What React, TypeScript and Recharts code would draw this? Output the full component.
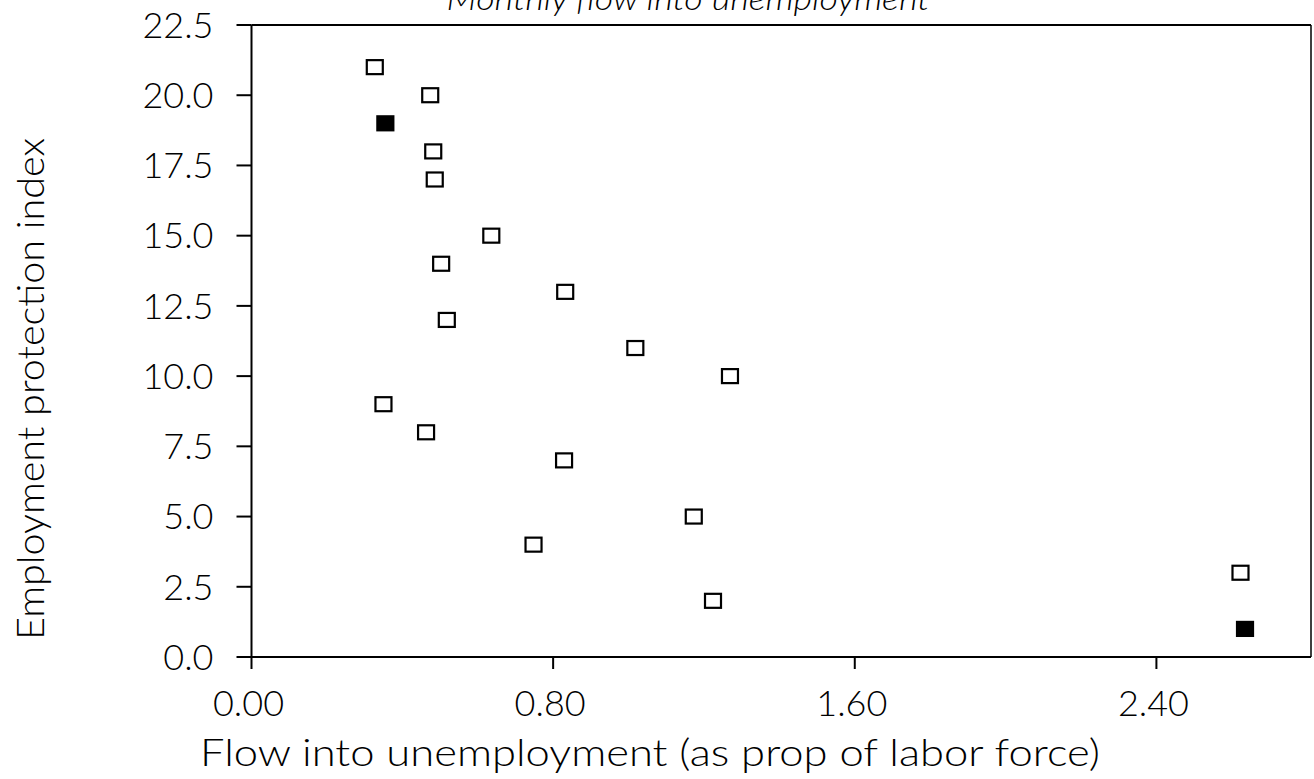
import { ScatterChart, Scatter, XAxis, YAxis, ReferenceLine } from 'recharts';

// flow into unemployment (x) vs employment protection rank (y)
const openFlow = [0.327, 0.474, 0.482, 0.486, 0.636, 0.503, 0.832, 0.518, 1.018, 1.269, 0.35, 0.463, 0.829, 1.173, 0.748, 2.623, 1.224];
const openIndex = [21, 20, 18, 17, 15, 14, 13, 12, 11, 10, 9, 8, 7, 5, 4, 3, 2];
const filledFlow = [0.355, 2.635];
const filledIndex = [19, 1];

const xTicks = [0, 0.8, 1.6, 2.4];
const yTicks = [0, 2.5, 5, 7.5, 10, 12.5, 15, 17.5, 20, 22.5];

const openData = openFlow.map((x, i) => ({ x, y: openIndex[i] }));
const filledData = filledFlow.map((x, i) => ({ x, y: filledIndex[i] }));

const tickFont = { fontFamily: 'Lato', fontWeight: 300, fontSize: 36, fill: '#000' };

function Box(props: any) {
  const { cx, cy, filled } = props;
  if (cx == null || cy == null) return null;
  return (
    <rect
      x={cx - 8}
      y={cy - 7}
      width={16}
      height={14}
      fill={filled ? '#000' : '#fff'}
      stroke="#000"
      strokeWidth={2.2}
    />
  );
}

export default function App() {
  return (
    <div style={{ position: 'absolute', left: 0, top: 0, background: '#fff' }}>
      <ScatterChart width={1314} height={779} margin={{ top: 25, right: 3, bottom: 0, left: 0 }}>
        <XAxis
          type="number"
          dataKey="x"
          domain={[0, 2.81]}
          ticks={xTicks}
          tickFormatter={(v: number) => v.toFixed(2)}
          tick={{ ...tickFont, dx: -3 }}
          tickSize={12}
          tickMargin={21}
          height={122}
          stroke="#000"
          strokeWidth={2}
        />
        <YAxis
          type="number"
          dataKey="y"
          domain={[0, 22.5]}
          ticks={yTicks}
          tickFormatter={(v: number) => v.toFixed(1)}
          tick={tickFont}
          tickSize={15}
          tickMargin={23}
          width={251.5}
          stroke="#000"
          strokeWidth={2}
        />
        <ReferenceLine y={22.5} stroke="#000" strokeWidth={2} />
        <ReferenceLine x={2.81} stroke="#000" strokeWidth={1.5} />
        <Scatter data={openData} shape={<Box />} isAnimationActive={false} />
        <Scatter data={filledData} shape={<Box filled />} isAnimationActive={false} />
        <text
          x={688}
          y={10}
          textAnchor="middle"
          fontFamily="Lato"
          fontWeight={300}
          fontStyle="italic"
          fontSize={32}
          textLength={483}
          lengthAdjust="spacingAndGlyphs"
        >
          Monthly flow into unemployment
        </text>
        <text
          x={650}
          y={766}
          textAnchor="middle"
          fontFamily="Lato"
          fontWeight={300}
          fontSize={38}
          textLength={900}
          lengthAdjust="spacingAndGlyphs"
        >
          Flow into unemployment (as prop of labor force)
        </text>
        <text
          transform="translate(44,389) rotate(-90)"
          textAnchor="middle"
          fontFamily="Lato"
          fontWeight={300}
          fontSize={38}
          textLength={502}
          lengthAdjust="spacingAndGlyphs"
        >
          Employment protection index
        </text>
      </ScatterChart>
    </div>
  );
}
